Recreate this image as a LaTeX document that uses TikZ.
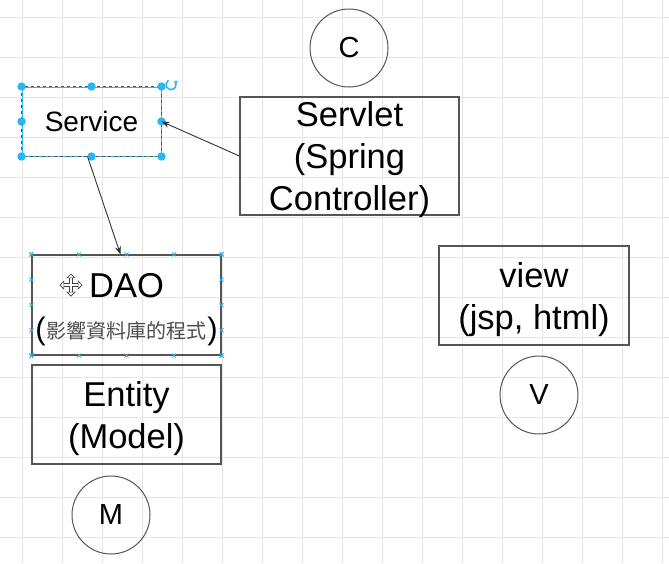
\documentclass[tikz,border=0pt]{standalone}
\usepackage{fontspec}
\setmainfont{Liberation Sans}
\newfontfamily\cjk{Noto Sans CJK TC}
\usetikzlibrary{arrows.meta,calc}
\definecolor{gridc}{HTML}{E6E6E6}
\definecolor{selblue}{HTML}{29B6F2}
\definecolor{boxc}{HTML}{555555}
\begin{document}
\begin{tikzpicture}[x=1pt,y=-1pt,
 box/.style={draw=boxc, line width=1.2pt, rectangle, inner sep=0pt},
 lbl/.style={align=center, inner sep=0pt, font=\fontsize{34.5}{42}\selectfont},
 circ/.style={draw=boxc, line width=1pt, circle, minimum size=78pt, inner sep=0pt, font=\fontsize{29}{30}\selectfont},
 conn/.style={draw=black!80, line width=0.9pt, -{Stealth[length=8pt,width=6pt]}},
 xmark/.style={selblue, line width=0.8pt},
]
\useasboundingbox[fill=white] (0,0) rectangle (669,563);
\foreach \x in {22,62,...,662} \draw[gridc, line width=0.8pt] (\x,0) -- (\x,563);
\foreach \y in {17,57,...,557} \draw[gridc, line width=0.8pt] (0,\y) -- (669,\y);

% C / Servlet
\node[circ] (c) at (349,48) {C};
\node[box, minimum width=219pt, minimum height=118pt] (servlet) at (349.5,156) {};
\node[lbl] (servlett) at (349.5,160) {Servlet\\(Spring\\Controller)};

% Service (selected)
\node[rectangle, draw=selblue, line width=1pt, inner sep=0pt, minimum width=139pt, minimum height=69pt, font=\fontsize{28}{30}\selectfont] (service) at (91.5,121.5) {Service};
\draw[boxc, line width=1pt, dash pattern=on 3pt off 3pt] (service.north west) rectangle (service.south east);
\foreach \a in {north west, north, north east, east, south east, south, south west, west}
  \fill[selblue] (service.\a) circle (4.2pt);
\draw[selblue, line width=1.5pt, -{Triangle[length=3pt,width=5pt]}] (171,76) ++(120:5) arc[start angle=120, end angle=410, radius=5pt];

% DAO (selected)
\node[box, minimum width=189pt, minimum height=100pt] (dao) at (126.5,305) {};
\foreach \t in {0,0.25,0.5,0.75,1} {
  \foreach \p in {($(dao.north west)!\t!(dao.north east)$), ($(dao.south west)!\t!(dao.south east)$), ($(dao.north west)!\t!(dao.south west)$), ($(dao.north east)!\t!(dao.south east)$)}
    \draw[xmark] \p +(-2,-2) -- +(2,2) +(-2,2) -- +(2,-2);
}
\node[lbl] (daot) at (126.5,286) {DAO};
\node[font=\cjk\fontsize{20}{22}\selectfont, text=black!70, inner sep=0pt] (daocjk) at (126,331) {影響資料庫的程式};
\node[font=\fontsize{31}{31}\selectfont, inner sep=0pt] (lp) at (40.5,331) {(};
\node[font=\fontsize{31}{31}\selectfont, inner sep=0pt] (rp) at (212.5,331) {)};
% move cursor
\foreach \a in {0,90,180,270} {
  \draw[black!75, line width=3.4pt] (71,285) -- ++(\a:7);
}
\foreach \a in {0,90,180,270} {
  \draw[white, line width=1.6pt] (71,285) -- ++(\a:7.5);
  \filldraw[fill=white, draw=black!75, line width=0.7pt] (71,285) ++(\a:11) -- ++(\a+135:5.5) -- ++(\a-90:7.8) -- cycle;
}

% Entity
\node[box, minimum width=189pt, minimum height=99pt] (entity) at (126.5,414.5) {};
\node[lbl] (entityt) at (126.5,418.5) {Entity\\(Model)};
\node[circ] (m) at (111,515) {M};

% View
\node[box, minimum width=190pt, minimum height=99pt] (view) at (534,295.5) {};
\node[lbl] (viewt) at (534,299.5) {view\\(jsp, html)};
\node[circ] (v) at (539,395) {V};

% connectors
\draw[conn] (servlet.west) -- (service.east);
\draw[conn] ([xshift=-4pt]service.south) -- ([xshift=-6pt]dao.north);
\end{tikzpicture}
\end{document}
